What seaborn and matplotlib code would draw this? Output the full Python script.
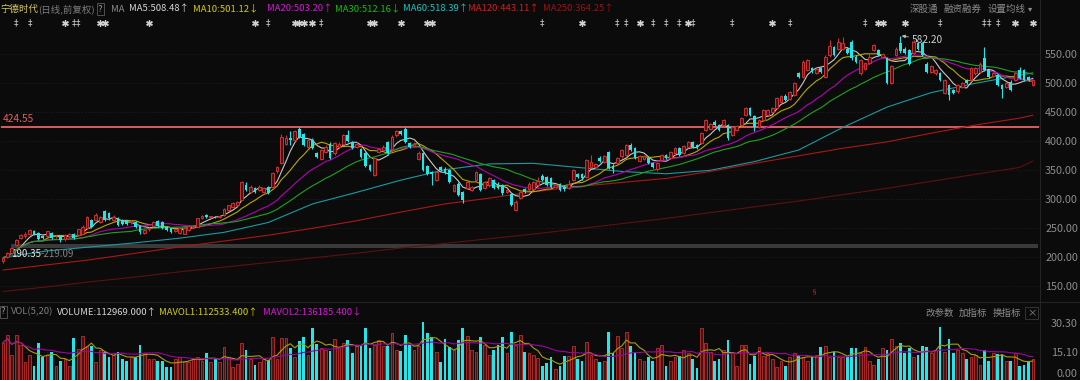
import matplotlib
matplotlib.use("Agg")
import matplotlib.pyplot as plt
from matplotlib.lines import Line2D
import seaborn as sns
import pandas as pd

# ---------------- data (daily candles, oldest first) ----------------
opens = [194, 201, 208, 221, 233, 236, 241, 245, 242, 237,
         236, 242, 236, 238, 232, 236, 241, 238, 241, 250,
         264, 264, 261, 279, 276, 264, 267, 264, 264, 260,
         261, 254, 242, 248, 254, 263, 260, 253, 250, 246,
         242, 241, 247, 251, 253, 268, 273, 269, 270, 269,
         273, 281, 287, 290, 299, 325, 313, 320, 316, 313,
         321, 322, 348, 362, 395, 406, 402, 422, 413, 390,
         403, 379, 370, 382, 396, 379, 390, 396, 411, 399,
         391, 386, 379, 359, 342, 381, 385, 398, 386, 410,
         418, 422, 397, 392, 370, 379, 357, 347, 333, 356,
         353, 350, 314, 327, 313, 320, 316, 333, 343, 319,
         324, 333, 327, 324, 312, 309, 282, 302, 318, 317,
         318, 325, 340, 339, 336, 321, 326, 322, 320, 333,
         344, 344, 339, 356, 355, 372, 365, 382, 358, 362,
         374, 376, 394, 388, 366, 370, 371, 362, 353, 368,
         376, 371, 379, 388, 380, 391, 399, 394, 397, 419,
         421, 434, 428, 428, 428, 411, 419, 428, 445, 457,
         443, 425, 437, 445, 451, 457, 468, 478, 473, 480,
         518, 511, 523, 526, 518, 526, 511, 548, 563, 560,
         560, 560, 572, 546, 517, 525, 535, 557, 557, 545,
         543, 500, 549, 569, 560, 557, 552, 569, 569, 534,
         520, 517, 517, 483, 497, 488, 486, 494, 506, 506,
         517, 520, 543, 523, 513, 514, 497, 494, 503, 506,
         523, 523, 511, 497]

closes = [198, 207, 216, 230, 238, 241, 247, 241, 231, 233,
          245, 234, 236.5, 229, 238, 240, 233, 248, 253, 270,
          253, 273, 270, 265, 267, 270, 256, 257, 257, 262,
          253, 244, 247, 251, 261, 254, 250, 247, 244, 248,
          250, 250, 254, 253, 267, 271, 269, 271, 269, 271,
          284, 290, 293, 296, 329, 316, 322, 313, 322, 319,
          311, 345, 356, 408, 405, 402, 417, 408, 394, 403,
          388, 373, 385, 391, 371, 397, 396, 411, 400, 388,
          396, 373, 358, 350, 371, 386, 391, 379, 408, 417,
          413, 399, 391, 396, 380, 351, 344, 343, 347, 351,
          345, 330, 325, 307, 299, 330, 321, 347, 316, 330,
          336, 319, 319, 310, 316, 290, 296, 313, 312, 327,
          329, 331, 334, 325, 322, 324, 316, 317, 326, 350,
          339, 336, 368, 364, 360, 366, 375, 354, 352, 371,
          385, 394, 385, 371, 374, 375, 362, 356, 363, 376,
          371, 382, 388, 376, 392, 399, 390, 389, 414, 437,
          429, 428, 419, 437, 405, 425, 426, 440, 457, 445,
          425, 437, 454, 454, 457, 475, 478, 471, 485, 500,
          511, 537, 540, 520, 524, 519, 546, 565, 549, 572,
          570, 552, 543, 537, 540, 535, 545, 566, 549, 550,
          500, 529, 560, 555, 552, 534, 572, 560, 549, 520,
          529, 523, 506, 506, 480, 483, 497, 500, 500, 526,
          526, 534, 523, 511, 517, 497, 491, 500, 488, 517,
          509, 506, 506, 506]

highs = [200, 209, 218, 232, 240, 243, 249, 247, 243, 238,
         246, 243, 238, 239, 241, 242, 242, 249, 255, 272,
         266, 276, 272, 281, 278, 273, 269, 266, 265, 264,
         263, 255, 249, 253, 262, 265, 262, 254, 251, 249,
         251, 252, 255, 255, 268, 273, 275, 272, 272, 273,
         285, 291, 295, 297, 331, 330, 324, 322, 324, 321,
         323, 347, 358, 413, 410, 418, 419, 424, 415, 405,
         406, 381, 387, 393, 398, 399, 398, 413, 420, 401,
         398, 388, 381, 361, 373, 388, 393, 400, 410, 419,
         420, 424.55, 399, 398, 383, 381, 359, 349, 349, 358,
         355, 352, 327, 329, 315, 332, 323, 349, 345, 332,
         338, 335, 329, 326, 318, 311, 298, 315, 320, 329,
         331, 338, 343, 341, 338, 326, 328, 324, 333, 352,
         346, 346, 370, 377, 362, 374, 377, 384, 360, 373,
         387, 396, 397, 390, 376, 377, 373, 364, 365, 378,
         378, 384, 390, 390, 394, 401, 401, 396, 416, 439,
         431, 436, 430, 439, 430, 427, 428, 442, 459, 459,
         445, 439, 456, 456, 459, 477, 480, 481, 487, 502,
         520, 540, 542, 528, 526, 528, 548, 575, 565, 578,
         580, 562, 574, 548, 542, 537, 552, 568, 559, 552,
         545, 531, 562, 582.2, 562, 559, 574, 571, 571, 536,
         531, 525, 519, 508, 499, 490, 499, 502, 508, 528,
         528, 536, 563, 525, 519, 516, 499, 502, 505, 519,
         528, 525, 513, 508]

lows = [190.35, 199, 206, 219, 231, 234, 239, 239, 229, 231,
        234, 232, 234, 227, 228, 235, 232, 236, 240, 249,
        251, 262, 259, 263, 265, 262, 254, 255, 255, 258,
        251, 240, 241, 246, 253, 252, 248, 245, 242, 244,
        241, 240, 246, 250, 252, 266, 267, 268, 267, 268,
        272, 280, 286, 288, 298, 314, 311, 311, 314, 311,
        309, 320, 346, 360, 393, 394, 400, 406, 392, 388,
        386, 371, 368, 380, 369, 377, 388, 394, 398, 386,
        389, 371, 356, 348, 340, 379, 383, 377, 384, 408,
        411, 397, 389, 390, 368, 349, 342, 325, 331, 349,
        343, 328, 312, 305, 293, 318, 314, 331, 314, 317,
        322, 317, 317, 308, 310, 288, 280, 300, 310, 315,
        316, 322, 332, 323, 320, 319, 314, 315, 318, 331,
        337, 334, 337, 354, 353, 364, 363, 352, 346, 360,
        372, 374, 383, 369, 364, 368, 360, 354, 348, 366,
        369, 369, 377, 374, 378, 389, 388, 387, 395, 417,
        419, 426, 417, 426, 403, 409, 417, 426, 443, 443,
        418, 423, 435, 443, 449, 455, 466, 469, 471, 478,
        509, 509, 521, 518, 516, 517, 509, 546, 547, 558,
        557, 550, 541, 535, 515, 523, 533, 555, 547, 543,
        498, 498, 547, 553, 550, 532, 550, 558, 547, 518,
        518, 515, 504, 481, 472, 481, 484, 492, 498, 504,
        515, 518, 521, 509, 511, 495, 474, 492, 486, 504,
        507, 504, 504, 495]

# volume in 10k lots (axis units)
volumes = [19.9, 24.2, 13.2, 24.2, 18.5, 9.5, 13.2, 7.6, 19.9, 12.3,
           13.2, 15.1, 7.6, 10.0, 11.4, 7.6, 22.7, 16.7, 23.3, 18.0,
           18.0, 9.5, 16.1, 14.8, 12.3, 13.2, 14.8, 11.4, 10.0, 12.3,
           12.3, 18.9, 14.2, 11.4, 11.4, 10.4, 10.0, 7.0, 7.0, 11.4,
           12.3, 10.4, 9.5, 11.4, 12.3, 10.4, 14.6, 9.5, 11.4, 9.5,
           17.6, 12.3, 7.0, 8.5, 19.9, 16.1, 11.4, 7.9, 9.5, 11.4,
           10.8, 23.1, 11.4, 22.7, 22.7, 17.0, 12.3, 20.8, 23.1, 13.2,
           27.8, 19.3, 17.0, 16.1, 15.5, 21.8, 17.0, 19.9, 21.6, 14.2,
           18.4, 18.0, 28.0, 17.0, 18.9, 21.2, 18.0, 18.0, 25.0, 16.1,
           15.5, 24.0, 18.5, 16.1, 18.4, 30.9, 25.0, 23.1, 15.1, 9.5,
           21.8, 17.6, 16.1, 21.2, 27.8, 23.7, 16.1, 15.1, 23.1, 18.9,
           13.2, 16.1, 18.5, 23.1, 14.2, 25.6, 18.9, 24.0, 14.8, 14.6,
           13.2, 12.0, 7.6, 8.9, 12.3, 6.0, 7.6, 12.9, 12.9, 18.0,
           11.0, 10.0, 20.2, 13.2, 11.4, 9.5, 10.4, 25.9, 14.2, 23.7,
           17.0, 25.9, 18.4, 14.2, 11.4, 10.0, 12.3, 10.0, 17.0, 18.9,
           7.6, 10.4, 12.3, 12.9, 16.1, 14.2, 11.4, 6.2, 28.0, 19.9,
           15.1, 10.0, 11.4, 16.1, 21.4, 14.2, 7.7, 18.9, 18.9, 8.5,
           12.9, 17.4, 13.0, 14.2, 11.4, 7.0, 10.0, 7.6, 12.3, 14.2,
           13.2, 12.3, 10.0, 12.3, 13.2, 17.4, 18.0, 12.3, 14.8, 12.3,
           12.3, 12.3, 17.0, 17.0, 14.2, 17.6, 10.0, 7.9, 11.4, 17.0,
           16.1, 21.8, 18.0, 19.9, 14.2, 17.0, 12.3, 13.2, 18.0, 17.4,
           14.2, 16.1, 28.4, 15.0, 21.8, 14.6, 16.1, 14.2, 11.4, 12.3,
           13.2, 8.1, 16.1, 10.4, 14.6, 13.8, 13.2, 10.0, 10.0, 14.2,
           7.6, 8.1, 9.5, 11.3]

# long moving averages, read every 10th day (last point = last day)
ma_days = [0, 10, 20, 30, 40, 50, 60, 70, 80, 90, 100, 110, 120,
           130, 140, 150, 160, 170, 180, 190, 200, 210, 220, 230, 233]
ma60 = [200, 211, 218, 225, 233, 243, 260, 292, 312, 333, 351, 361, 362,
        355, 348, 344, 350, 365, 385, 424, 459, 484, 500, 514, 518]
ma120 = [178, 187, 196, 207, 218, 228, 238, 250, 263, 278, 292, 302, 313,
         322, 329, 336, 348, 362, 375, 388, 399, 414, 428, 440, 445]
ma250 = [141, 149, 158, 166, 175, 183, 191, 199, 207, 216, 224, 232, 240,
         249, 258, 267, 277, 287, 297, 308, 319, 331, 343, 355, 366]

price_ticks = [150, 200, 250, 300, 350, 400, 450, 500, 550]
vol_ticks = [15.10, 30.30]
range_high = 424.55
cost_band = (215.5, 222.5)

# event marks on top row (day index)
dagger_days = [3, 6, 16, 17, 60, 72, 122, 139, 141, 147, 150, 153, 156, 165,
               178, 195, 212, 222, 223, 225]
star_days = [14, 22, 23, 33, 57, 66, 67, 68, 70, 83, 84, 90, 96, 97, 131,
             144, 155, 174, 198, 199, 204, 229, 233]

# ---------------- style ----------------
BG = "#0b0b0b"
UP_EDGE = "#d0302f"
UP_FACE = "#4a1212"
DOWN = "#1ee8ec"
GRID = "#202020"
AXIS_TXT = "#8c8c8c"
HEAD = 6.8

sns.set_theme(style="dark", rc={"axes.facecolor": BG, "figure.facecolor": BG,
                                "axes.edgecolor": BG})
plt.rcParams["font.family"] = ["Noto Sans CJK SC", "DejaVu Sans"]

df = pd.DataFrame({"open": opens, "close": closes, "high": highs,
                   "low": lows, "volume": volumes})
df["day"] = range(len(df))
df["up"] = df["close"] >= df["open"]
for n in (5, 10, 20, 30):
    df[f"ma{n}"] = df["close"].rolling(n, min_periods=1).mean()
df["mavol1"] = df["volume"].rolling(5, min_periods=1).mean()
df["mavol2"] = df["volume"].rolling(20, min_periods=1).mean()
df["body_lo"] = df[["open", "close"]].min(axis=1)
df["body_h"] = (df["close"] - df["open"]).abs().clip(lower=0.9)

fig = plt.figure(figsize=(10.8, 3.8), dpi=100)
W = 1040 / 1080
ax = fig.add_axes([0, 82 / 380, W, 284 / 380])
axv = fig.add_axes([0, 0, W, 77 / 380])

up = df[df["up"]]
dn = df[~df["up"]]

# ---------------- price pane ----------------
ax.set_yticks(price_ticks)
ax.grid(axis="y", color=GRID, ls=(0, (1, 2)), lw=0.7)
ax.grid(axis="x", visible=False)

ax.axhspan(*cost_band, xmin=11 / 1040, xmax=1038 / 1040, color="#3a3a3a", lw=0, zorder=1)
ax.axhline(range_high, color="#e8646a", lw=1.3, zorder=2)

ma_styles = [("ma5", "#c8c8c8"), ("ma10", "#b5a800"), ("ma20", "#b400b4"), ("ma30", "#22a022")]
for col, c in ma_styles:
    sns.lineplot(data=df, x="day", y=col, ax=ax, color=c, lw=0.8, zorder=4)
sns.lineplot(x=ma_days, y=ma60, ax=ax, color="#1a9aa0", lw=0.8, zorder=3)
sns.lineplot(x=ma_days, y=ma120, ax=ax, color="#a81818", lw=0.8, zorder=3)
sns.lineplot(x=ma_days, y=ma250, ax=ax, color="#5e1010", lw=0.8, zorder=3)

ax.vlines(up["day"], up["low"], up["high"], color=UP_EDGE, lw=0.8, zorder=5)
ax.vlines(dn["day"], dn["low"], dn["high"], color=DOWN, lw=0.8, zorder=5)
ax.bar(up["day"], up["body_h"], bottom=up["body_lo"], width=0.62,
       color=UP_FACE, edgecolor=UP_EDGE, linewidth=0.7, zorder=6)
ax.bar(dn["day"], dn["body_h"], bottom=dn["body_lo"], width=0.62,
       color=DOWN, linewidth=0, zorder=6)

ax.set_xlim(-0.68, 234.6)
ax.set_ylim(129.8, 619.5)
ax.set_xticks([])
ax.set_xlabel("")
ax.set_ylabel("")
ax.yaxis.tick_right()
ax.set_yticklabels([f"{t:.2f}" for t in price_ticks], ha="right")
ax.tick_params(axis="y", length=0, pad=27.4, labelcolor=AXIS_TXT, labelsize=7.8)

# event marks row
xt = ax.get_xaxis_transform()
for d in dagger_days:
    ax.text(d, 0.968, "‡", transform=xt, ha="center", va="center",
            fontsize=6.5, color="#d0d0d0", family="DejaVu Sans")
ax.scatter(star_days, [0.968] * len(star_days), transform=xt, marker=(6, 2, 0),
           s=16, lw=1.0, color="#d0d0d0", zorder=7)

# price labels
ax.text(0, 438.4, "424.55", color="#e0605f", fontsize=7.3, ha="left", va="center")
ax.text(1.8, 205.7, "190.35", color="#e6e6e6", fontsize=7.1, ha="left", va="center")
ax.text(8.6, 205.7, "-219.09", color="#7f7f7f", fontsize=7.1, ha="left", va="center")
ax.annotate("582.20", xy=(203, 582.2), xytext=(205.6, 574.7), color="#d0d0d0",
            fontsize=7.3, ha="left", va="center",
            arrowprops=dict(arrowstyle="-|>", color="#bbbbbb", lw=0.6,
                            mutation_scale=5, shrinkA=0, shrinkB=1))
ax.text(183.3, 132, "§", color="#e02020", fontsize=5, ha="center", va="bottom")

# ---------------- volume pane ----------------
axv.set_yticks(vol_ticks)
axv.grid(axis="y", color=GRID, ls=(0, (1, 2)), lw=0.7)
axv.grid(axis="x", visible=False)
axv.bar(up["day"], up["volume"], width=0.62, color=UP_FACE, edgecolor="#c02c2c",
        linewidth=0.6, zorder=3)
axv.bar(dn["day"], dn["volume"], width=0.62, color=DOWN, linewidth=0, zorder=3)
sns.lineplot(data=df, x="day", y="mavol1", ax=axv, color="#a8a000", lw=0.8, zorder=4)
sns.lineplot(data=df, x="day", y="mavol2", ax=axv, color="#a000a8", lw=0.8, zorder=4)
axv.set_xlim(-0.68, 234.6)
axv.set_ylim(0, 41.2)
axv.set_xticks([])
axv.set_xlabel("")
axv.set_ylabel("")
axv.yaxis.tick_right()
axv.set_yticklabels([f"{t:.2f}" for t in vol_ticks], ha="right")
axv.tick_params(axis="y", length=0, pad=27.4, labelcolor=AXIS_TXT, labelsize=7.8)
axv.text(1077 / 1040, 0.01, "0.00", transform=axv.transAxes, ha="right",
         va="bottom", color=AXIS_TXT, fontsize=7.8)

# separators
fig.add_artist(Line2D([W, W], [0, 1], color="#242424", lw=0.8))
fig.add_artist(Line2D([0, 1], [78 / 380, 78 / 380], color="#242424", lw=0.8))


# ---------------- header texts ----------------
def put(xpx, ypx, s, color, size=HEAD, **kw):
    fig.text(xpx / 1080, 1 - ypx / 380, s, color=color, fontsize=size,
             ha="left", va="center", **kw)


box = dict(boxstyle="square,pad=0.15", fc=BG, ec="#5a5a5a", lw=0.6)
put(0, 9, "宁德时代", "#d9c95a")
put(38, 9, "(日线,前复权)", "#7d7d7d")
put(98, 9, "?", "#9a9a9a", bbox=box)
put(111, 9, "MA", "#8a8a8a")
put(129, 9, "MA5:508.48↑", "#d6d6d6")
put(193, 9, "MA10:501.12↓", "#d4d000")
put(267, 9, "MA20:503.20↑", "#e010e0")
put(335, 9, "MA30:512.16↓", "#10c010")
put(403, 9, "MA60:518.39↑", "#10c8c8")
put(468, 9, "MA120:443.11↑", "#e01818")
put(543, 9, "MA250:364.25↑", "#a01010")
put(910, 9, "深股通", AXIS_TXT)
put(944, 9, "融资融券", AXIS_TXT)
put(988, 9, "设置均线", AXIS_TXT)
put(1028, 9, "▾", AXIS_TXT, size=6)

put(1, 312, "?", "#9a9a9a", bbox=box)
put(11, 312, "VOL(5,20)", "#7d7d7d")
put(57, 312, "VOLUME:112969.000↑", "#d6d6d6")
put(159, 312, "MAVOL1:112533.400↑", "#d4d000")
put(263, 312, "MAVOL2:136185.400↓", "#e010e0")
put(925, 313, "改参数", AXIS_TXT)
put(959, 313, "加指标", AXIS_TXT)
put(993, 313, "换指标", AXIS_TXT)
put(1027, 313, "×", AXIS_TXT, bbox=dict(boxstyle="square,pad=0.2", fc=BG, ec="#3a3a3a", lw=0.6))

fig.savefig("out.png", dpi=100, facecolor=BG)
